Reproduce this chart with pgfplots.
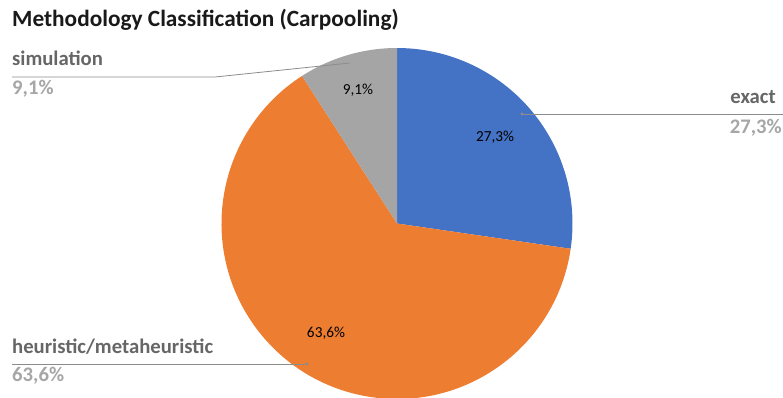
\documentclass[border=0pt]{standalone}
\usepackage{pgfplots}
\usepackage{pgfplotstable}
\pgfplotsset{compat=1.18}
\usepackage{fontspec}
\setmainfont{Carlito}
\definecolor{cexact}{HTML}{4472C4}
\definecolor{cheur}{HTML}{ED7D31}
\definecolor{csim}{HTML}{A5A5A5}
\definecolor{lblname}{HTML}{666666}
\definecolor{lblval}{HTML}{A6A6A6}
\definecolor{leader}{HTML}{8C8C8C}
\pgfplotstableread{
category value
exact 27.3
heuristic 63.6
simulation 9.1
}\piedata
\begin{document}
\begin{tikzpicture}
\begin{axis}[
  scale only axis, width=783pt, height=397pt,
  xmin=0, xmax=783, ymin=0, ymax=397,
  hide axis, clip=true,
]
\pgfplotstablegetelem{0}{value}\of\piedata \pgfmathsetmacro\va{\pgfplotsretval}
\pgfplotstablegetelem{1}{value}\of\piedata \pgfmathsetmacro\vb{\pgfplotsretval}
\pgfplotstablegetelem{2}{value}\of\piedata \pgfmathsetmacro\vc{\pgfplotsretval}
\pgfmathsetmacro\aa{90-3.6*\va}
\pgfmathsetmacro\ab{\aa-3.6*\vb}
\pgfmathsetmacro\ac{\ab-3.6*\vc}
\fill[cexact] (axis cs:397,173.5) -- ++(90:175.5pt) arc[start angle=90, end angle=\aa, radius=175.5pt] -- cycle;
\fill[cheur] (axis cs:397,173.5) -- ++(\aa:175.5pt) arc[start angle=\aa, end angle=\ab, radius=175.5pt] -- cycle;
\fill[csim] (axis cs:397,173.5) -- ++(\ab:175.5pt) arc[start angle=\ab, end angle=\ac, radius=175.5pt] -- cycle;
% leader lines
\draw[leader, line width=0.8pt] (axis cs:12,320) -- (axis cs:215,320) -- (axis cs:350,334);
\draw[leader, line width=0.8pt] (axis cs:522,283) -- (axis cs:783,283);
\fill[leader] (axis cs:522,283) circle[radius=1.6pt];
\draw[leader, line width=0.8pt] (axis cs:12,33) -- (axis cs:307,33);
\fill[leader] (axis cs:307,33) circle[radius=1.6pt];
% title
\node[anchor=west, inner sep=0pt, font=\fontsize{23.3}{26}\selectfont\bfseries, text=black!90] at (axis cs:12,377) {Methodology Classification (Carpooling)};
% outside labels
\node[anchor=west, inner sep=0pt, font=\fontsize{20.7}{23}\selectfont\bfseries, text=lblname] at (axis cs:12,339) {simulation};
\node[anchor=west, inner sep=0pt, font=\fontsize{20.7}{23}\selectfont\bfseries, text=lblval] at (axis cs:12,308) {9,1\%};
\node[anchor=east, inner sep=0pt, font=\fontsize{20.7}{23}\selectfont\bfseries, text=lblname] at (axis cs:776,300) {exact};
\node[anchor=east, inner sep=0pt, font=\fontsize{20.7}{23}\selectfont\bfseries, text=lblval] at (axis cs:782,269) {27,3\%};
\node[anchor=west, inner sep=0pt, font=\fontsize{20.7}{23}\selectfont\bfseries, text=lblname] at (axis cs:12,50) {heuristic/metaheuristic};
\node[anchor=west, inner sep=0pt, font=\fontsize{20.7}{23}\selectfont\bfseries, text=lblval] at (axis cs:12,21) {63,6\%};
% inside labels
\node[font=\fontsize{15.3}{17}\selectfont, text=black] at (axis cs:358,307) {9,1\%};
\node[font=\fontsize{15.3}{17}\selectfont, text=black] at (axis cs:495,260) {27,3\%};
\node[font=\fontsize{15.3}{17}\selectfont, text=black] at (axis cs:326,64) {63,6\%};
\end{axis}
\pgfresetboundingbox
\useasboundingbox (0,0) rectangle (783pt,397pt);
\end{tikzpicture}
\end{document}
